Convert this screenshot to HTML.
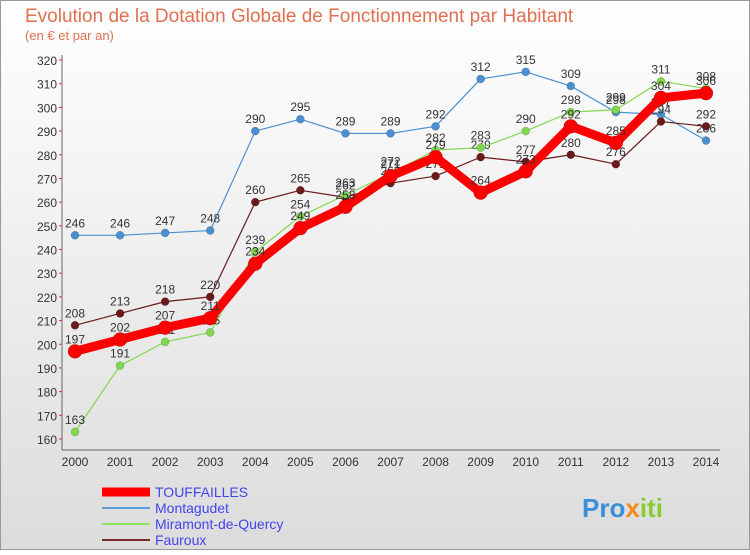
<!DOCTYPE html>
<html><head><meta charset="utf-8"><style>
body{margin:0;width:750px;height:550px;overflow:hidden;font-family:"Liberation Sans",sans-serif}
</style></head><body>
<svg width="750" height="550" xmlns="http://www.w3.org/2000/svg">
<defs><linearGradient id="bg" x1="0" y1="0" x2="0" y2="1"><stop offset="0" stop-color="#ffffff"/><stop offset="1" stop-color="#dcdcdc"/></linearGradient></defs>
<rect x="0.5" y="0.5" width="749" height="549" fill="url(#bg)" stroke="#999"/>
<text x="25" y="22" font-size="19" fill="#e07050">Evolution de la Dotation Globale de Fonctionnement par Habitant</text>
<text x="25" y="40" font-size="13" fill="#e07050">(en € et par an)</text>
<g id="axes"></g><g id="series"></g>
<g>
<line x1="102" y1="492" x2="150" y2="492" stroke="#ff0000" stroke-width="9"/>
<text x="155" y="497" font-size="14" fill="#4444ee">TOUFFAILLES</text>
<line x1="102" y1="508" x2="150" y2="508" stroke="#5aa0d8" stroke-width="2"/>
<text x="155" y="513" font-size="14" fill="#4444ee">Montagudet</text>
<line x1="102" y1="524" x2="150" y2="524" stroke="#90e060" stroke-width="2"/>
<text x="155" y="529" font-size="14" fill="#4444ee">Miramont-de-Quercy</text>
<line x1="102" y1="540" x2="150" y2="540" stroke="#7a2a2a" stroke-width="2"/>
<text x="155" y="545" font-size="14" fill="#4444ee">Fauroux</text>
</g>
<text x="582" y="517" font-size="26" font-weight="bold" fill="#3a8fd8">Pro<tspan fill="#f08a20">x</tspan><tspan fill="#8acb30">iti</tspan></text>
</svg>
<script>
const years=[2000,2001,2002,2003,2004,2005,2006,2007,2008,2009,2010,2011,2012,2013,2014];
const touffailles=[197,202,207,211,234,249,258,271,279,264,273,292,285,304,306];
const montagudet=[246,246,247,248,290,295,289,289,292,312,315,309,298,297,286];
const miramont=[163,191,201,205,239,254,263,272,282,283,290,298,299,311,308];
const fauroux=[208,213,218,220,260,265,262,268,271,279,277,280,276,294,292];
const yTicks=[160,170,180,190,200,210,220,230,240,250,260,270,280,290,300,310,320];
const NS="http://www.w3.org/2000/svg";
const X=i=>75+i*(706-75)/(years.length-1);
const Y=v=>439-(v-160)*(439-60)/160;
function mk(t,a,p){const e=document.createElementNS(NS,t);for(const k in a)e.setAttribute(k,a[k]);p.appendChild(e);return e;}
const ax=document.getElementById('axes');
yTicks.forEach(v=>{
 const l=mk('line',{x1:59,x2:62,y1:Y(v),y2:Y(v),stroke:'#e03030'},ax);
 
 
 const t=mk('text',{x:57,y:Y(v)+5,'font-size':12,fill:'#333','text-anchor':'end'},ax);t.textContent=v;
 
 
});
const la=mk('line',{x1:62,x2:62,y1:55,y2:450,stroke:'#666'},ax);


const lb=mk('line',{x1:62,x2:720,y1:450,y2:450,stroke:'#666'},ax);


years.forEach((y,i)=>{
 const t=mk('text',{x:X(i),y:466,'font-size':12,fill:'#333','text-anchor':'middle'},ax);t.textContent=y;
 
 
});
const sg=document.getElementById('series');
function series(vals,color,w,r,name){
 const g=mk('g',{},sg);
 
 
 const p=mk('polyline',{points:vals.map((v,i)=>X(i)+','+Y(v)).join(' '),fill:'none',stroke:color,'stroke-width':w,'stroke-linejoin':'round'},g);
 
 
 vals.forEach((v,i)=>{
  const c=mk('circle',{cx:X(i),cy:Y(v),r:r,fill:color,stroke:'rgba(0,0,0,0.3)','stroke-width':0.5},g);
  
  
  const t=mk('text',{x:X(i),y:Y(v)-8,'font-size':12,fill:'#333','text-anchor':'middle'},g);t.textContent=v;
  
  
 });
}
series(montagudet,'#4a90d0',1.2,4,'montagudet');
series(fauroux,'#6a1a1a',1.2,4,'fauroux');
series(miramont,'#80d850',1.2,4,'miramont');
series(touffailles,'#ff0000',9,7,'touffailles');
</script>
</body></html>
